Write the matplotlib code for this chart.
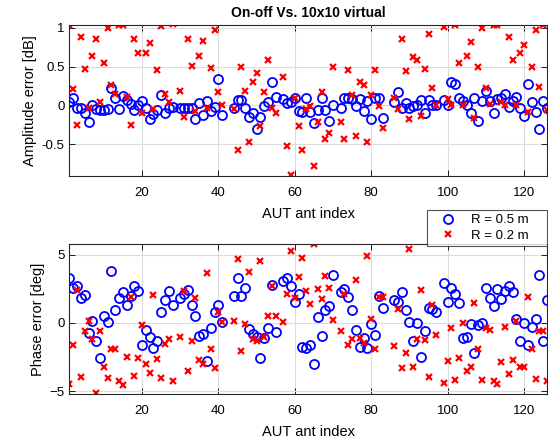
import numpy as np
import matplotlib
matplotlib.use("Agg")
import matplotlib.pyplot as plt

nan = np.nan
idx = list(range(1, 127))

amp_r05 = [0.04, 0.10, -0.04, -0.04, -0.10, -0.22, 0.0, -0.05, -0.06, -0.06,
           -0.05, 0.22, 0.10, -0.05, 0.12, 0.07, 0.02, -0.06, 0.01, 0.06,
           -0.04, -0.17, -0.11, -0.06, 0.13, -0.10, -0.03, -0.02, nan, -0.03,
           -0.03, -0.03, -0.03, -0.18, 0.03, -0.13, 0.06, -0.07, -0.02, 0.34,
           -0.13, nan, nan, -0.04, 0.07, 0.07, -0.04, -0.15, -0.10, -0.30,
           -0.15, -0.01, 0.04, 0.30, 0.11, nan, 0.08, 0.03, 0.04, 0.09,
           -0.07, -0.09, 0.09, -0.09, -0.23, -0.06, 0.10, -0.06, -0.20, 0.0,
           nan, -0.03, 0.10, 0.09, 0.08, -0.01, 0.08, -0.07, 0.06, -0.17,
           0.10, 0.10, -0.16, nan, nan, 0.04, 0.17, -0.03, 0.03, -0.04,
           -0.01, 0.0, 0.07, -0.10, 0.07, 0.01, 0.01, nan, 0.07, 0.01,
           0.30, 0.27, 0.10, 0.06, 0.0, -0.10, 0.10, -0.20, 0.06, 0.19,
           0.05, -0.10, 0.08, 0.10, 0.14, -0.02, 0.06, 0.11, -0.04, -0.14,
           0.27, 0.04, -0.09, -0.30, 0.06, -0.03]

amp_r02 = [1.03, 0.21, -0.25, 0.88, 0.47, -0.04, 0.63, 0.85, 0.04, 0.54,
           1.00, 0.26, 0.14, 1.04, 1.03, 0.11, -0.25, 0.86, 0.68, -0.10,
           0.68, 0.80, -0.05, 0.45, 1.02, 0.15, 0.04, 1.05, nan, 0.19,
           -0.15, 0.86, 0.51, -0.07, 0.64, 0.83, -0.04, 0.48, 0.97, 0.17,
           0.0, nan, nan, -0.05, -0.58, 0.49, 0.19, -0.47, 0.30, 0.42,
           -0.26, 0.17, 0.59, -0.04, -0.10, nan, 0.36, -0.53, -0.90, 0.10,
           -0.26, -0.57, -0.05, -0.01, -0.78, -0.21, 0.17, -0.43, -0.36, 0.50,
           nan, -0.22, -0.43, 0.46, 0.13, -0.39, 0.30, 0.26, -0.47, 0.13,
           0.46, -0.01, -0.29, nan, nan, 0.10, -0.05, 0.85, 0.44, -0.17,
           0.62, 0.58, -0.14, 0.47, 0.92, 0.22, 0.0, nan, 1.01, 0.08,
           0.0, 1.04, 0.54, 0.0, 0.64, 0.82, -0.16, 0.50, 1.00, 0.22,
           0.02, 1.04, 1.03, 0.04, 0.0, 0.88, 0.58, 0.0, 0.67, 0.78,
           -0.09, 0.50, 0.97, 0.23, 1.04, -0.06]

ph_r05 = [3.27, 2.54, 2.74, 1.82, 2.06, -0.73, 0.12, -1.29, -2.55, 0.48,
          0.07, 3.83, 0.97, 1.82, 2.30, 1.33, 2.01, 2.67, 2.35, -1.58,
          -0.49, -1.05, -1.82, -1.29, 0.80, 1.70, 2.35, 1.28, nan, 1.82,
          2.11, 2.42, 1.33, 0.53, -0.92, -0.80, -2.79, -0.37, 0.80, 1.28,
          0.07, nan, nan, 1.94, 3.27, 2.01, 2.54, -0.44, -0.80, -1.05,
          -2.60, -1.09, -0.37, 2.79, -0.66, nan, 3.10, 3.27, 2.74, 1.53,
          2.11, -1.75, -1.82, -1.58, -2.99, 0.41, -0.92, 0.97, 1.26, 3.52,
          nan, 2.25, 2.50, 1.89, 0.92, -0.49, -1.75, -1.09, -1.82, -0.08,
          -0.90, 1.94, 1.09, nan, nan, 1.70, 1.57, 2.25, 0.92, 0.05,
          -1.33, 0.0, -2.47, -0.56, 1.09, 1.04, 0.80, nan, 2.91, 1.57,
          2.59, 2.11, 1.45, -1.09, -1.05, -0.08, -2.23, -0.12, 0.0, 2.59,
          1.82, 1.26, 2.50, 1.77, 2.35, 2.67, 2.25, 0.31, -1.29, 0.0,
          -1.63, -0.32, 0.31, 3.52, -1.33, 1.70]

ph_r02 = [-4.49, -1.63, 2.38, -3.93, -0.56, 0.12, -1.14, -5.15, -0.61, -3.23,
          -4.00, -1.87, -1.87, -4.25, -4.54, -2.50, 1.87, -3.88, -2.55, -0.12,
          -3.03, -3.64, 2.06, -2.67, -4.00, -1.53, -1.17, -4.25, nan, -1.05,
          2.35, -3.52, -1.34, 1.82, -2.74, -3.03, 3.69, -1.94, -3.32, 0.80,
          0.07, nan, nan, 0.17, 4.65, -2.06, -0.08, 3.71, -1.21, -1.29,
          4.56, -1.05, 0.48, 2.67, 0.48, nan, 0.07, 2.11, 5.26, 1.82,
          3.35, 4.73, 2.35, 1.38, 5.75, 2.50, 1.77, 3.47, 2.59, 0.24,
          nan, -0.56, 2.11, -1.63, -1.14, 3.15, -1.09, -1.46, 4.92, 0.31,
          -1.89, 1.87, 1.87, nan, nan, -1.65, 1.04, -3.32, -2.18, 5.38,
          -3.20, -1.17, 2.38, -1.26, -3.93, 1.28, -0.85, nan, -4.37, -2.79,
          -0.37, -4.17, -2.55, 0.0, -3.52, -3.23, 1.45, -1.87, -4.17, -0.37,
          -0.54, -4.25, -4.44, -2.84, -0.32, -3.76, -2.72, 0.17, -3.20, -3.23,
          1.89, -1.87, -4.12, -0.56, -0.61, -4.25]

title = "On-off Vs. 10x10 virtual"
labels = ["R = 0.5 m", "R = 0.2 m"]
xticks = [20, 40, 60, 80, 100, 120]

plt.rcParams['font.family'] = ['Liberation Sans', 'DejaVu Sans']
fig = plt.figure(figsize=(5.48, 4.42), dpi=100)
W, H = 548, 442

def add_ax(x0, y0, x1, y1):
    return fig.add_axes([x0 / W, 1 - y1 / H, (x1 - x0) / W, (y1 - y0) / H])

ax1 = add_ax(69.4, 25, 547, 176)
ax2 = add_ax(69.4, 244, 547, 394)

def style(ax):
    ax.grid(True, color='#dcdcdc', linewidth=0.8)
    ax.set_axisbelow(True)
    ax.tick_params(direction='in', top=True, right=True, labelsize=9.5, length=4, width=0.6)
    ax.tick_params(axis='x', pad=8)
    for s in ax.spines.values():
        s.set_linewidth(0.8)
        s.set_color('#262626')
    ax.set_xticks(xticks)
    ax.set_xlim(1, 126)

mk = dict(linestyle='none')
l1, = ax1.plot(idx, amp_r05, marker='o', mfc='none', mec=(0, 0, 1), ms=6.5, mew=1.3, **mk)
l2, = ax1.plot(idx, amp_r02, marker='x', color=(1, 0, 0), ms=5, mew=1.6, **mk)
ax2.plot(idx, ph_r05, marker='o', mfc='none', mec=(0, 0, 1), ms=6.5, mew=1.3, **mk)
ax2.plot(idx, ph_r02, marker='x', color=(1, 0, 0), ms=5, mew=1.6, **mk)

style(ax1)
style(ax2)
ax1.set_ylim(-0.91, 1.035)
ax1.set_yticks([-0.5, 0, 0.5, 1])
ax1.set_yticklabels(['-0.5', '0', '0.5', '1'])
ax2.set_ylim(-5.2, 5.78)
ax2.set_yticks([-5, 0, 5])

ax1.set_title(title, fontsize=10, fontweight='bold', pad=6)
ax1.set_xlabel("AUT ant index", fontsize=10.5, labelpad=6)
ax2.set_xlabel("AUT ant index", fontsize=10.5, labelpad=6)
ax1.set_ylabel("Amplitude error [dB]", fontsize=10.5, labelpad=3)
ax2.set_ylabel("Phase error [deg]", fontsize=10.5, labelpad=3)

leg = fig.legend([l1, l2], labels, loc='upper left', mode='expand',
                 bbox_to_anchor=(427 / W, 1 - 244 / H, 120 / W, 34 / H),
                 fontsize=9.5, frameon=True, fancybox=False, edgecolor='#262626',
                 borderpad=0.3, labelspacing=0.25, handlelength=2.6,
                 handletextpad=0.4, borderaxespad=0)
leg.get_frame().set_linewidth(0.8)

fig.savefig("out.png", dpi=100)
